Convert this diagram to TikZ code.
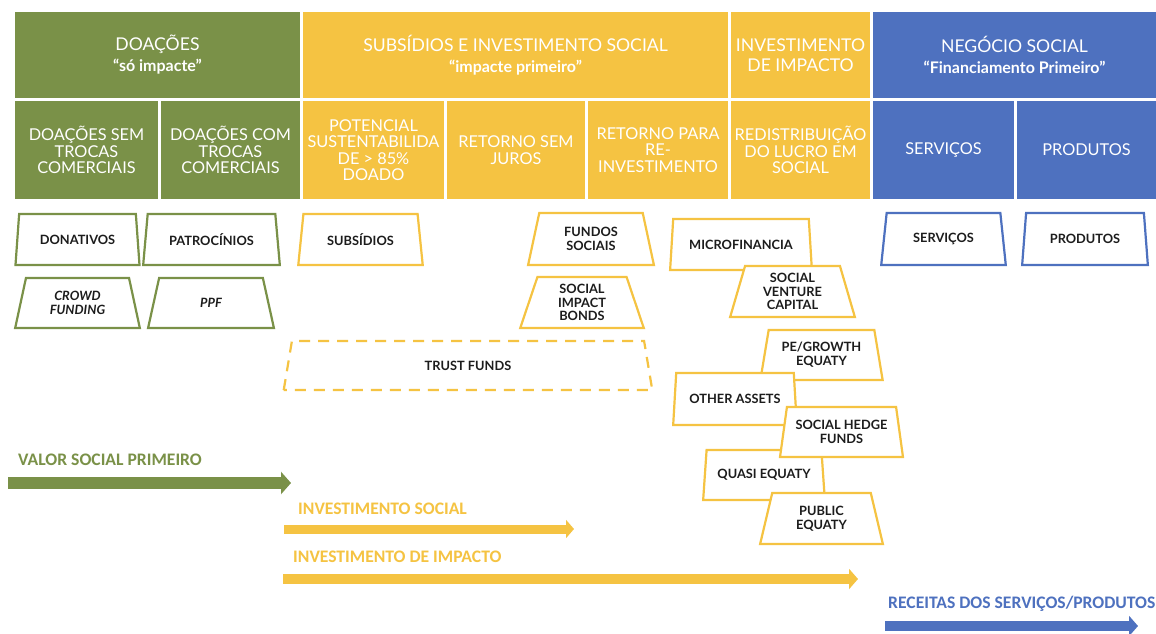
\documentclass[tikz,border=0pt]{standalone}
\usepackage{fontspec}
\setmainfont{Lato}
\newfontfamily\carlito{Carlito}
\usetikzlibrary{shapes.geometric,arrows.meta}
\definecolor{cgreen}{RGB}{122,145,72}
\definecolor{cyellow}{RGB}{245,195,66}
\definecolor{cblue}{RGB}{78,113,191}
\definecolor{ctext}{RGB}{28,28,28}
\newcommand\subtxt{\fontsize{16}{17}\selectfont\bfseries}
\begin{document}
\begin{tikzpicture}[x=1pt,y=-1pt,
 hdr/.style={inner sep=0pt, outer sep=0pt, text=white, align=center},
 hone/.style={hdr, minimum height=86pt, font=\fontsize{17.6}{20}\selectfont},
 htwo/.style={hdr, minimum height=98pt, font=\fontsize{16.3}{16.5}\selectfont},
 trap/.style={trapezium, trapezium stretches=true, trapezium left angle=76, trapezium right angle=76,
   line width=2.2pt, fill=white, align=center, text=ctext, inner sep=0pt,
   font=\fontsize{12.8}{13.8}\selectfont\bfseries},
 gtrap/.style={trap, draw=cgreen},
 ytrap/.style={trap, draw=cyellow},
 btrap/.style={trap, draw=cblue},
 alabel/.style={anchor=west, inner sep=0pt, font=\carlito\bfseries\fontsize{17.6}{19}\selectfont}
]
\useasboundingbox (0,0) rectangle (1156,634);
\fill[white] (0,0) rectangle (1156,634);

% row 1 headers
\node[hone, fill=cgreen, minimum width=285pt] (hdoa) at (157.5,55) {DOAÇÕES\\[1pt]{\subtxt “só impacte”}};
\node[hone, fill=cyellow, minimum width=425pt] (hsub) at (515.5,55) {SUBSÍDIOS E INVESTIMENTO SOCIAL\\[1pt]{\subtxt “impacte primeiro”}};
\node[hone, fill=cyellow, minimum width=139pt] (himp) at (800.5,55) {INVESTIMENTO\\DE IMPACTO};
\node[hone, fill=cblue, minimum width=283pt] (hneg) at (1014.5,55) {NEGÓCIO SOCIAL\\[1pt]{\subtxt “Financiamento Primeiro”}};

% row 2 headers
\node[htwo, fill=cgreen, minimum width=143pt] (dsem) at (86.5,150) {DOAÇÕES SEM\\TROCAS\\COMERCIAIS};
\node[htwo, fill=cgreen, minimum width=139pt] (dcom) at (230.5,150) {DOAÇÕES COM\\TROCAS\\COMERCIAIS};
\node[htwo, fill=cyellow, minimum width=141pt] (pot) at (373.5,150) {POTENCIAL\\SUSTENTABILIDA\\DE > 85\%\\DOADO};
\node[htwo, fill=cyellow, minimum width=138pt] (rsem) at (516,150) {RETORNO SEM\\JUROS};
\node[htwo, fill=cyellow, minimum width=140pt] (rpara) at (658,150) {RETORNO PARA\\RE-\\INVESTIMENTO};
\node[htwo, fill=cyellow, minimum width=139pt] (redis) at (800.5,150) {REDISTRIBUIÇÃO\\DO LUCRO EM\\SOCIAL};
\node[htwo, fill=cblue, minimum width=141pt] (hserv) at (943.5,150) {SERVIÇOS};
\node[htwo, fill=cblue, minimum width=139pt] (hprod) at (1086.5,150) {PRODUTOS};

% trapezoids
\node[gtrap, minimum width=125pt, minimum height=51pt] (don) at (77.5,239.5) {DONATIVOS};
\node[gtrap, minimum width=137pt, minimum height=51pt] (pat) at (211.5,239.5) {PATROCÍNIOS};
\node[gtrap, minimum width=125pt, minimum height=50pt] (crowd) at (77.5,303) {\itshape CROWD\\\itshape FUNDING};
\node[gtrap, minimum width=126pt, minimum height=50pt] (ppf) at (211,303) {\itshape PPF};
\node[ytrap, minimum width=125pt, minimum height=51pt] (subs) at (360.5,239.5) {SUBSÍDIOS};
\node[ytrap, minimum width=126pt, minimum height=52pt] (fundos) at (591,239) {FUNDOS\\SOCIAIS};
\node[ytrap, minimum width=124pt, minimum height=51pt] (sib) at (582,302.5) {SOCIAL\\IMPACT\\BONDS};
\node[ytrap, dash pattern=on 11pt off 8pt, trapezium left angle=78, trapezium right angle=78,
      minimum width=370pt, minimum height=49pt] (trust) at (468,365.5) {TRUST FUNDS};
\node[ytrap, minimum width=142pt, minimum height=51pt] (micro) at (741,244.5) {MICROFINANCIA};
\node[ytrap, minimum width=125pt, minimum height=51pt] (svc) at (792.5,291.5) {SOCIAL\\VENTURE\\CAPITAL};
\node[ytrap, minimum width=123pt, minimum height=50pt] (pe) at (821.5,355) {PE/GROWTH\\EQUATY};
\node[ytrap, minimum width=124pt, minimum height=52pt] (other) at (735,399) {OTHER ASSETS};
\node[ytrap, minimum width=122pt, minimum height=50pt] (quasi) at (764,475) {QUASI EQUATY};
\node[ytrap, minimum width=123pt, minimum height=50pt] (shf) at (841.5,432) {SOCIAL HEDGE\\FUNDS};
\node[ytrap, minimum width=123pt, minimum height=51pt] (public) at (821.5,518.5) {PUBLIC\\EQUATY};
\node[btrap, minimum width=125pt, minimum height=52pt] (serv) at (943.5,239) {SERVIÇOS};
\node[btrap, minimum width=126pt, minimum height=52pt] (prod) at (1085,239) {PRODUTOS};

% arrows
\node[alabel, text=cgreen] (lvsp) at (18,460) {VALOR SOCIAL PRIMEIRO};
\coordinate (g1) at (8,483);
\coordinate (g2) at (291,483);
\draw[cgreen, line width=11.5pt, -{Triangle[length=10pt,width=22pt]}] (g1) -- (g2);

\node[alabel, text=cyellow] (lis) at (298,509) {INVESTIMENTO SOCIAL};
\coordinate (y1) at (284,529);
\coordinate (y2) at (574,529);
\draw[cyellow, line width=9pt, -{Triangle[length=8pt,width=18pt]}] (y1) -- (y2);

\node[alabel, text=cyellow] (lii) at (293,557) {INVESTIMENTO DE IMPACTO};
\coordinate (i1) at (283,579);
\coordinate (i2) at (858,579);
\draw[cyellow, line width=10pt, -{Triangle[length=9pt,width=20pt]}] (i1) -- (i2);

\node[alabel, text=cblue] (lrec) at (888,604) {RECEITAS DOS SERVIÇOS/PRODUTOS};
\coordinate (b1) at (885,626);
\coordinate (b2) at (1138,626);
\draw[cblue, line width=10pt, -{Triangle[length=9pt,width=20pt]}] (b1) -- (b2);
\end{tikzpicture}
\end{document}
